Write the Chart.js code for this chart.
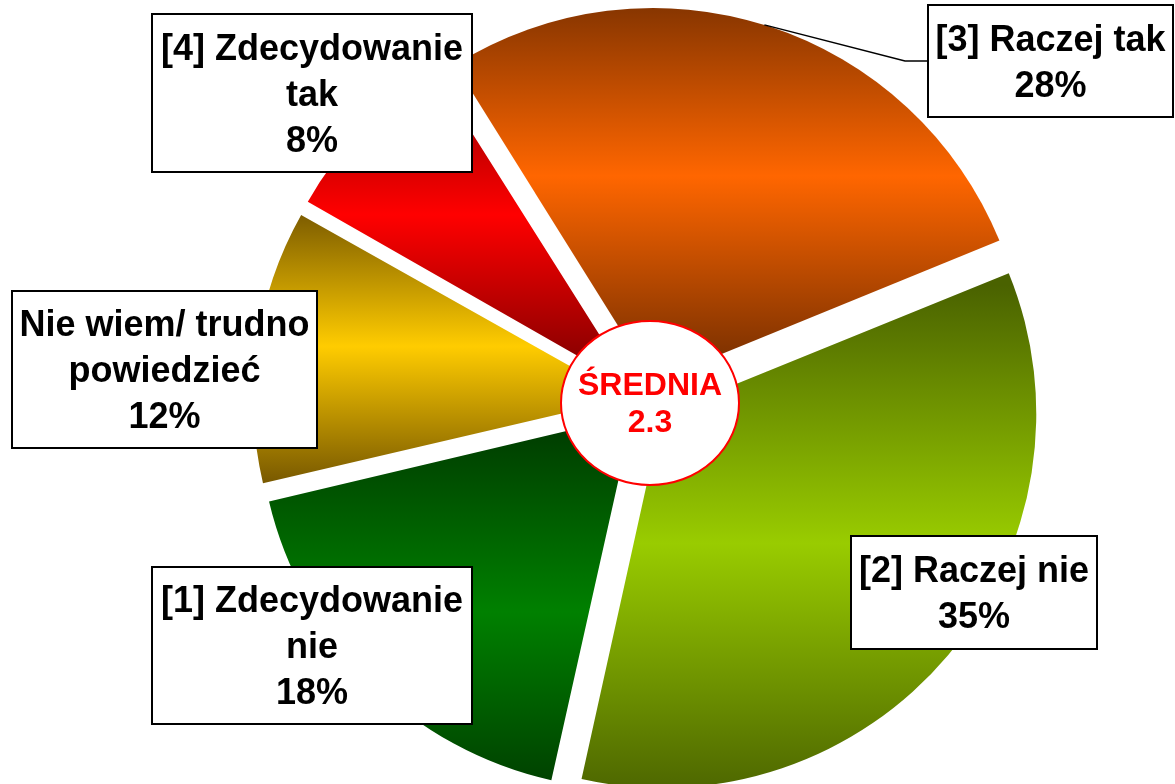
<!DOCTYPE html>
<html>
<head>
<meta charset="utf-8">
<script src="https://cdn.jsdelivr.net/npm/chart.js@4.4.1/dist/chart.umd.min.js"></script>
<style>
  html, body { margin: 0; padding: 0; background: #ffffff; overflow: hidden; }
  #wrap { position: relative; width: 1175px; height: 784px; }
</style>
</head>
<body>
<div id="wrap"><canvas id="pie"></canvas></div>
<script>
// Answers, clockwise from the top
const categories = ['[3] Raczej tak', '[2] Raczej nie', '[1] Zdecydowanie nie', 'Nie wiem/ trudno powiedzieć', '[4] Zdecydowanie tak'];
const shares = [28, 35, 18, 12, 8];
// How each category name is broken inside its callout
const labelLines = [
  ['[3] Raczej tak'],
  ['[2] Raczej nie'],
  ['[1] Zdecydowanie', 'nie'],
  ['Nie wiem/ trudno', 'powiedzieć'],
  ['[4] Zdecydowanie', 'tak']
];
const averageTitle = 'ŚREDNIA';
const averageValue = 2.3;

// Shading per slice: [edge colour, centre colour]
const sliceShades = [
  ['#7a3000', '#ff6600'],
  ['#4a6200', '#99cc00'],
  ['#003d00', '#008000'],
  ['#7a5a00', '#ffcc00'],
  ['#800000', '#ff0000']
];

// Callout boxes (left, top, width, height)
const calloutBoxes = [
  { x: 928, y: 5,   w: 245, h: 112 },
  { x: 851, y: 536, w: 246, h: 113 },
  { x: 152, y: 567, w: 320, h: 157 },
  { x: 12,  y: 291, w: 305, h: 157 },
  { x: 152, y: 14,  w: 320, h: 158 }
];

const PULL = 20;         // how far every slice is pulled out from the centre, px
const RADIUS = 374;

// Chart.js moves an arc by offset/4 and also widens it by offset/4 * (1 - sin(sweep));
// the widening is taken back before drawing so all slices keep the same radius.
const shiftOf = arc => (arc.options.offset || 0) / 4;
const widenOf = arc => shiftOf(arc) * (1 - Math.sin(Math.min(Math.PI, arc.circumference)));

function sliceCentre(arc) {
  const s = shiftOf(arc);
  const mid = (arc.startAngle + arc.endAngle) / 2;
  return { cx: arc.x + Math.cos(mid) * s, cy: arc.y + Math.sin(mid) * s };
}

const sliceShading = {
  id: 'sliceShading',
  beforeDatasetsDraw(chart) {
    const ctx = chart.ctx;
    chart.getDatasetMeta(0).data.forEach((arc, i) => {
      arc.outerRadius = RADIUS - widenOf(arc);
      const { cx, cy } = sliceCentre(arc);
      const r = RADIUS;
      const ys = [cy, cy + Math.sin(arc.startAngle) * r, cy + Math.sin(arc.endAngle) * r];
      for (const a of [-Math.PI / 2, Math.PI / 2, Math.PI * 1.5, Math.PI * 2.5]) {
        if (a > arc.startAngle && a < arc.endAngle) ys.push(cy + Math.sin(a) * r);
      }
      const y0 = Math.min(...ys), y1 = Math.max(...ys);
      const g = ctx.createLinearGradient(0, y0, 0, y1);
      g.addColorStop(0, sliceShades[i][0]);
      g.addColorStop(0.5, sliceShades[i][1]);
      g.addColorStop(1, sliceShades[i][0]);
      arc.options.backgroundColor = g;
    });
  }
};

const FONT = '"Liberation Sans", Arial, Helvetica, sans-serif';

const callouts = {
  id: 'callouts',
  afterDatasetsDraw(chart) {
    const ctx = chart.ctx;
    const arcs = chart.getDatasetMeta(0).data;
    ctx.save();

    // leader from the "Raczej tak" slice to its box
    {
      const { cx, cy } = sliceCentre(arcs[0]);
      const a = (-90 + 17.3) * Math.PI / 180;
      const sx = cx + Math.cos(a) * RADIUS;
      const sy = cy + Math.sin(a) * RADIUS;
      const b = calloutBoxes[0];
      ctx.beginPath();
      ctx.moveTo(sx, sy);
      ctx.lineTo(b.x - 23, b.y + b.h / 2);
      ctx.lineTo(b.x, b.y + b.h / 2);
      ctx.lineWidth = 1.5;
      ctx.strokeStyle = '#000000';
      ctx.stroke();
    }

    const size = 36, lineH = 46, capH = size * 0.716;
    ctx.font = 'bold ' + size + 'px ' + FONT;
    ctx.textAlign = 'center';
    ctx.textBaseline = 'alphabetic';
    calloutBoxes.forEach((b, i) => {
      ctx.fillStyle = '#ffffff';
      ctx.fillRect(b.x, b.y, b.w, b.h);
      ctx.lineWidth = 2;
      ctx.strokeStyle = '#000000';
      ctx.strokeRect(b.x, b.y, b.w, b.h);
      const lines = labelLines[i].concat([shares[i] + '%']);
      const mx = b.x + b.w / 2;
      const my = b.y + b.h / 2;
      ctx.fillStyle = '#000000';
      lines.forEach((t, k) => {
        const lineCentre = my + (k - (lines.length - 1) / 2) * lineH;
        ctx.fillText(t, mx, lineCentre + capH / 2);
      });
    });

    // average badge in the middle
    const pc = arcs[0];
    const ex = pc.x + 3, ey = pc.y + 2;
    ctx.beginPath();
    ctx.ellipse(ex, ey, 89, 82, 0, 0, Math.PI * 2);
    ctx.fillStyle = '#ffffff';
    ctx.fill();
    ctx.lineWidth = 2;
    ctx.strokeStyle = '#ff0000';
    ctx.stroke();
    ctx.fillStyle = '#ff0000';
    ctx.font = 'bold 32px ' + FONT;
    ctx.fillText(averageTitle, ex, ey - 8);
    ctx.fillText(averageValue.toFixed(1), ex, ey + 29);
    ctx.restore();
  }
};

new Chart(document.getElementById('pie'), {
  type: 'pie',
  data: {
    labels: categories,
    datasets: [{
      data: shares,
      backgroundColor: sliceShades.map(s => s[1]),
      borderWidth: 0,
      offset: PULL * 4,
      hoverOffset: 0,
      clip: false
    }]
  },
  options: {
    responsive: true,
    maintainAspectRatio: false,
    animation: false,
    events: [],
    rotation: -32,
    radius: RADIUS,
    layout: { padding: { left: 119, top: 18, right: 0, bottom: 0 } },
    plugins: {
      legend: { display: false },
      tooltip: { enabled: false },
      title: { display: false }
    }
  },
  plugins: [sliceShading, callouts]
});
</script>
</body>
</html>
